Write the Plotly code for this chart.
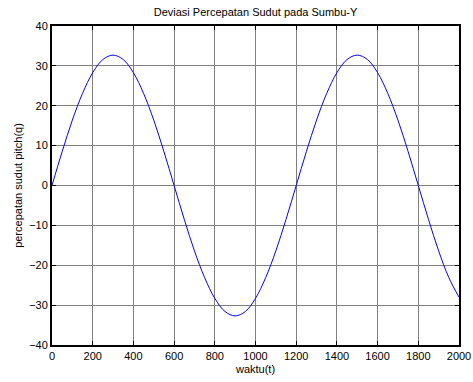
import plotly.graph_objects as go

t = list(range(0, 2001, 50))
q = [0, 8.5, 16.4, 23.1, 28.3, 31.6, 32.7, 31.6, 28.3, 23.1, 16.4, 8.5,
     0, -8.5, -16.4, -23.1, -28.3, -31.6, -32.7, -31.6, -28.3, -23.1, -16.4, -8.5,
     0, 8.5, 16.4, 23.1, 28.3, 31.6, 32.7, 31.6, 28.3, 23.1, 16.4, 8.5,
     0, -8.5, -16.4, -23.1, -28.0]

x_ticks = list(range(0, 2001, 200))
y_ticks = list(range(-40, 41, 10))

fig = go.Figure()
fig.add_trace(go.Scatter(x=t, y=q, mode="lines", line=dict(color="#0000ff", width=1, shape="spline"),
                         showlegend=False, cliponaxis=True))

font = dict(family="Liberation Sans, Arial, sans-serif", size=11, color="black")
axis_common = dict(showgrid=True, gridcolor="#7f7f7f", gridwidth=1, zeroline=False,
                   showline=True, linecolor="black", linewidth=2, mirror="ticks",
                   ticks="inside", ticklen=4, tickcolor="black", tickfont=font, automargin=False)

fig.update_layout(
    width=473, height=382,
    margin=dict(l=52, r=14, t=26, b=37, autoexpand=False),
    paper_bgcolor="white", plot_bgcolor="white",
    title=dict(text="Deviasi Percepatan Sudut pada Sumbu-Y", x=(52 + 459) / 2 / 473, xanchor="center",
               y=1 - 12 / 382, yanchor="middle", font=font, automargin=False),
    xaxis=dict(range=[0, 2000], tickvals=x_ticks, title=dict(text="waktu(t)", font=font, standoff=4), **axis_common),
    yaxis=dict(range=[-40, 40], tickvals=y_ticks, title=dict(text="percepatan sudut pitch(q)", font=font, standoff=4), **axis_common),
)

fig.write_html("out.html")
